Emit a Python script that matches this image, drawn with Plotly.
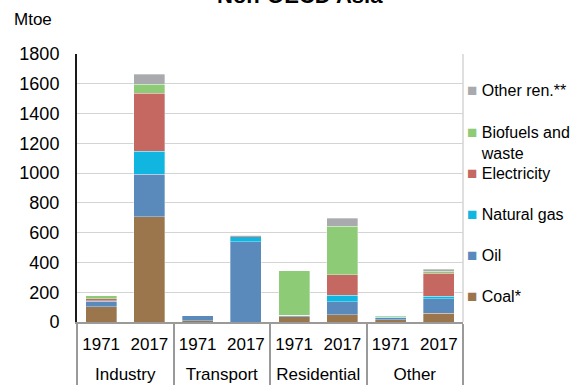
import plotly.graph_objects as go

# Final energy consumption by sector, Non-OECD Asia (Mtoe)
sectors = ["Industry", "Industry", "Transport", "Transport",
           "Residential", "Residential", "Other", "Other"]
years = ["1971", "2017", "1971", "2017", "1971", "2017", "1971", "2017"]

coal = [104, 707, 8, 0, 35, 49, 14, 58]
oil = [34, 286, 33, 540, 12, 87, 16, 98]
natural_gas = [5, 154, 0, 31, 0, 43, 1, 16]
electricity = [13, 388, 0, 13, 0, 138, 3, 154]
biofuels = [21, 62, 0, 0, 296, 327, 8, 15]
other_ren = [0, 67, 0, 0, 0, 54, 0, 12]

series_names = ["Coal*", "Oil", "Natural gas", "Electricity",
                "Biofuels and waste", "Other ren.**"]
series_values = [coal, oil, natural_gas, electricity, biofuels, other_ren]
series_colors = ["#9B764C", "#5A8ABB", "#10B5E0", "#C46861", "#8DCB76", "#A9AAAE"]

# legend labels (wrapped where needed)
legend_labels = [
    "Coal*", "Oil", "Natural gas", "Electricity",
    "Biofuels and<br>{pad}waste", "Other ren.**",
]

FONT = "Liberation Sans, Arial, sans-serif"

# year labels get an invisible raised second line so the sector row sits lower
year_labels = [y + '<br><span style="font-size:14px"><sup>\u00a0</sup></span>' for y in years]

fig = go.Figure()

for name, vals, col in zip(series_names, series_values, series_colors):
    fig.add_trace(go.Bar(
        x=[sectors, year_labels], y=vals, name=name,
        marker=dict(color=col, line=dict(color="rgba(255,255,255,0.55)", width=0.6)),
        showlegend=False,
    ))

# legend entries, listed top to bottom; the coloured key square is drawn as text
sq = '<span style="color:{c};font-size:17px">■</span> '
pad = '<span style="color:rgba(0,0,0,0);font-size:17px">■</span> '
for i in reversed(range(len(series_names))):
    text = sq.format(c=series_colors[i]) + legend_labels[i].format(pad=pad)
    fig.add_trace(go.Scatter(
        x=[None], y=[None], mode="markers",
        marker=dict(size=0, color="rgba(0,0,0,0)",
                    line=dict(width=0, color="rgba(0,0,0,0)")),
        name=text, legendgroup=f"g{i}",
        legend="legend" if i < 4 else "legend2",
    ))

fig.update_layout(
    width=573, height=386,
    margin=dict(l=77, r=110, t=54, b=64, autoexpand=False),
    paper_bgcolor="white", plot_bgcolor="white",
    barmode="stack", bargap=0.36,
    font=dict(family=FONT, size=17, color="#000000"),
    xaxis=dict(
        type="multicategory",
        showline=True, linecolor="#9a9a9a", linewidth=2,
        showdividers=True, dividercolor="#9a9a9a", dividerwidth=2,
        tickfont=dict(size=17), ticks="", tickangle=0, ticklabelstandoff=6,
    ),
    yaxis=dict(
        range=[0, 1800], dtick=200, tickformat="d",
        showgrid=True, gridcolor="#d4d4d4", gridwidth=1,
        showline=True, linecolor="#1a1a1a", linewidth=2,
        zeroline=False, ticks="", ticklabelstandoff=12,
        tickfont=dict(size=18),
    ),
    legend=dict(
        xref="container", yref="container", x=427 / 573, y=1 - 156 / 386,
        xanchor="left", yanchor="top",
        traceorder="grouped", tracegroupgap=17,
        bgcolor="rgba(0,0,0,0)", font=dict(size=16), valign="top",
    ),
    legend2=dict(
        xref="container", yref="container", x=427 / 573, y=1 - 73 / 386,
        xanchor="left", yanchor="top",
        traceorder="grouped", tracegroupgap=18,
        bgcolor="rgba(0,0,0,0)", font=dict(size=16), valign="top",
    ),
    shapes=[dict(type="line", xref="paper", yref="paper", x0=1, x1=1, y0=0, y1=1,
                 line=dict(color="#d4d4d4", width=1.5), layer="below")],
    annotations=[
        dict(text="<b>Non-OECD Asia</b>", xref="paper", yref="paper",
             x=(300 - 77) / 386, y=1, xanchor="center", yanchor="bottom",
             yshift=44, showarrow=False, font=dict(size=22)),
        dict(text="Mtoe", xref="paper", yref="paper",
             x=(12 - 77) / 386, y=1, xanchor="left", yanchor="middle",
             yshift=35, showarrow=False, font=dict(size=17)),
    ],
)

fig.write_html("out.html")
